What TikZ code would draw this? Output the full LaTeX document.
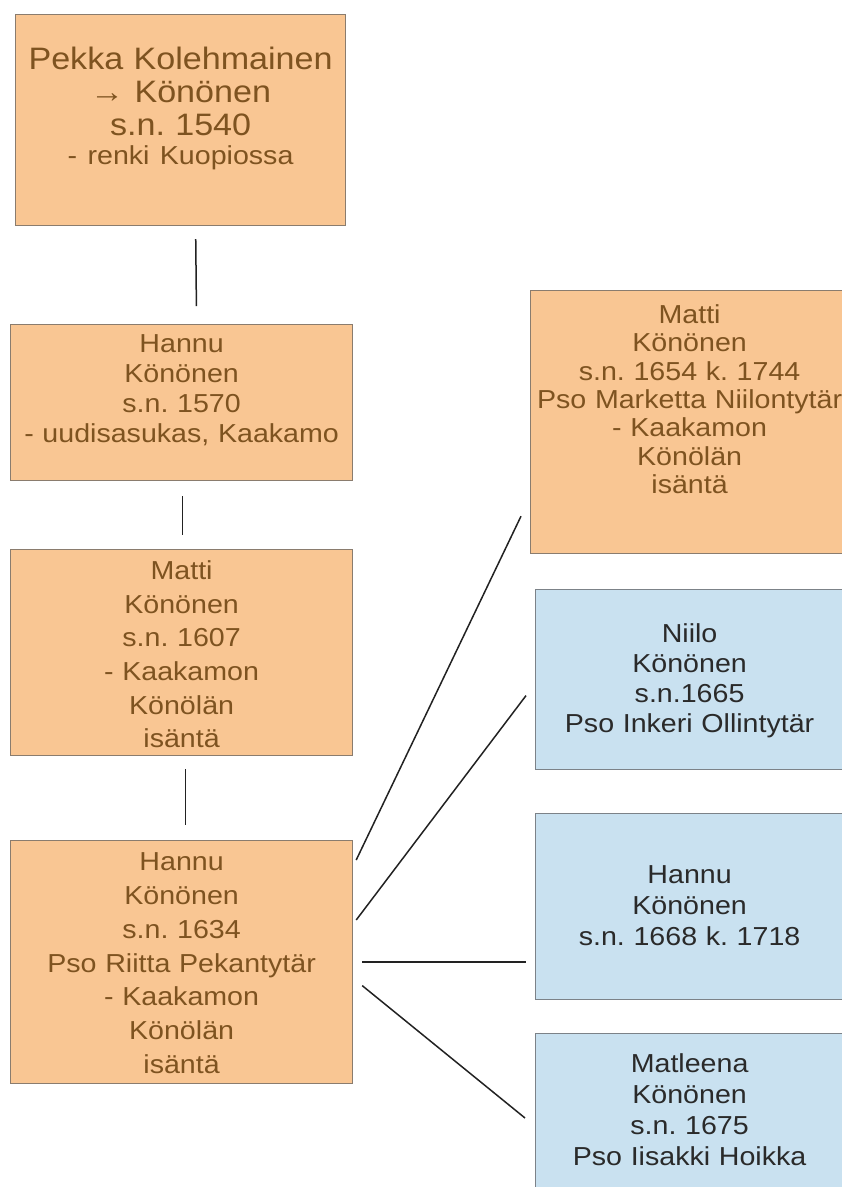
\documentclass[tikz,border=0pt]{standalone}
\usepackage{fontspec}
\newfontfamily\chartfont[FakeStretch=1.1]{Liberation Sans}
\frenchspacing

\definecolor{boxorange}{HTML}{F9C693}
\definecolor{orangeedge}{HTML}{8A7C6E}
\definecolor{orangetext}{HTML}{7E5320}
\definecolor{boxblue}{HTML}{C9E1F0}
\definecolor{blueedge}{HTML}{7C8288}
\definecolor{bluetext}{HTML}{2A2A2A}
\definecolor{linkgray}{HTML}{222222}

\tikzset{
  person/.style={draw, line width=1.2pt, inner sep=0pt, align=center,
    anchor=north west},
  linesep/.style={font=\chartfont\fontsize{26}{#1}\selectfont},
  ancestor/.style={person, draw=orangeedge, fill=boxorange, text=orangetext},
  offspring/.style={person, draw=blueedge, fill=boxblue, text=bluetext},
  link/.style={line width=1.5pt, draw=linkgray}
}

\begin{document}
\begin{tikzpicture}[x=1pt, y=-1pt]

  \useasboundingbox (0,0) rectangle (842,1187);

  % left column: the line of descent
  \node[ancestor, font=\chartfont\fontsize{31}{33}\selectfont,
    text width=330pt, text height=55pt, text depth=156pt]
    (pekka) at (15,14)
    {Pekka Kolehmainen\\ → Könönen\\ s.n. 1540\\[-4pt]
     {\fontsize{26}{28}\selectfont - renki Kuopiossa}};

  \node[ancestor, linesep=30, text width=342pt, text height=28pt, text depth=128pt]
    (hannuA) at (10,324)
    {Hannu\\ Könönen\\ s.n. 1570\\ - uudisasukas, Kaakamo};

  \node[ancestor, linesep=33.6, text width=342pt, text height=30pt, text depth=176pt]
    (mattiA) at (10,549)
    {Matti\\ Könönen\\ s.n. 1607\\ - Kaakamon\\ Könölän\\ isäntä};

  \node[ancestor, linesep=33.8, text width=342pt, text height=30pt, text depth=213pt]
    (hannuB) at (10,840)
    {Hannu\\ Könönen\\ s.n. 1634\\ Pso Riitta Pekantytär\\ - Kaakamon\\ Könölän\\ isäntä};

  % right column: the children
  \node[ancestor, linesep=28.3, text width=318pt, text height=33pt, text depth=230pt]
    (mattiB) at (530,290)
    {Matti\\ Könönen\\ s.n. 1654 k. 1744\\ Pso Marketta Niilontytär\\ - Kaakamon\\ Könölän\\ isäntä};

  \node[offspring, linesep=30, text width=308pt, text height=53pt, text depth=127pt]
    (niilo) at (535,589)
    {Niilo\\ Könönen\\ s.n.1665\\ Pso Inkeri Ollintytär};

  \node[offspring, linesep=31, text width=308pt, text height=70pt, text depth=116pt]
    (hannuC) at (535,813)
    {Hannu\\ Könönen\\ s.n. 1668 k. 1718};

  \node[offspring, linesep=31, text width=308pt, text height=39pt, text depth=128pt]
    (matleena) at (535,1033)
    {Matleena\\ Könönen\\ s.n. 1675\\ Pso Iisakki Hoikka};

  % parent to son
  \draw[link, shorten <=13pt, shorten >=18pt]
    ([xshift=15pt]pekka.south) -- ([xshift=15pt]hannuA.north);
  \draw[link, shorten <=15pt, shorten >=14pt]
    ([xshift=1pt]hannuA.south) -- ([xshift=1pt]mattiA.north);
  \draw[link, shorten <=13pt, shorten >=15pt]
    ([xshift=4pt]mattiA.south) -- ([xshift=4pt]hannuB.north);

  % Hannu to his children
  \draw[link] ([shift={(3pt,-20pt)}]hannuB.north east)
    -- ([shift={(-9pt,38pt)}]mattiB.south west);
  \draw[link] ([shift={(3pt,-80pt)}]hannuB.north east)
    -- ([shift={(-9pt,-16pt)}]niilo.west);
  \draw[link, shorten <=9pt, shorten >=9pt]
    (hannuB.east) -- (hannuB.east -| hannuC.west);
  \draw[link] ([shift={(9pt,-23.5pt)}]hannuB.east)
    -- ([shift={(-10pt,-85pt)}]matleena.north west);

\end{tikzpicture}
\end{document}
